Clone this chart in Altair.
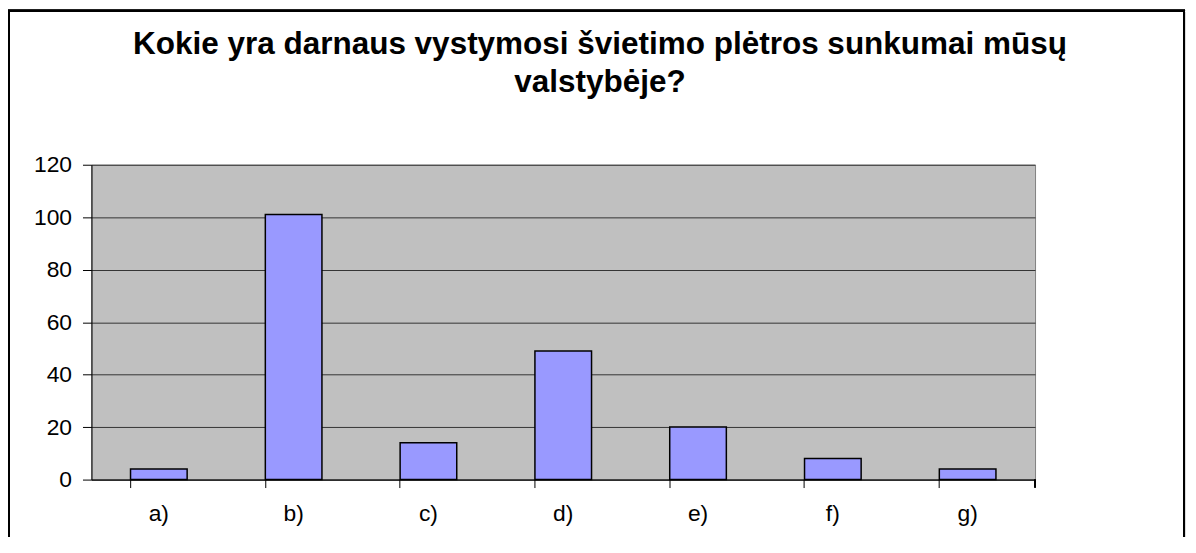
import altair as alt
import pandas as pd

categories = ["a)", "b)", "c)", "d)", "e)", "f)", "g)"]
values = [4, 101, 14, 49, 20, 8, 4]
y_ticks = [0, 20, 40, 60, 80, 100, 120]
title_lines = ["Kokie yra darnaus vystymosi švietimo plėtros sunkumai mūsų", "valstybėje?"]

df = pd.DataFrame({"cat": categories, "val": values})
FONT = "Liberation Sans"

W, H = 950, 317

bars = alt.Chart(df).mark_bar(
    color="#9999FF", stroke="black", strokeWidth=1.5
).encode(
    x=alt.X("cat:N", sort=categories,
            scale=alt.Scale(paddingInner=0.58, paddingOuter=0.29),
            axis=alt.Axis(title=None, labelAngle=0, bandPosition=0, ticks=True,
                          tickSize=8, tickColor="black", domainColor="black",
                          labelFontSize=23, labelPadding=15, labelColor="black",
                          labelFont=FONT, grid=False, labelBaseline="top")),
    y=alt.Y("val:Q", scale=alt.Scale(domain=[0, 120], nice=False),
            axis=alt.Axis(title=None, values=y_ticks, tickSize=9, tickColor="black",
                          domainColor="black", labelFontSize=23, labelPadding=11,
                          labelColor="black", labelFont=FONT, grid=True,
                          gridColor="#333333", gridWidth=1)),
)

last_tick = alt.Chart(df).mark_rule(color="black", strokeWidth=1).encode(
    x=alt.value(W), y=alt.value(H), y2=alt.value(H + 8)
)

border = alt.Chart(df).mark_rect(fill=None, stroke="black", strokeWidth=2, clip=False).encode(
    x=alt.value(-83), x2=alt.value(1100), y=alt.value(-155), y2=alt.value(H + 120)
)

chart = alt.layer(bars, last_tick, border).properties(
    width=W, height=H,
    background="white",
    autosize=alt.AutoSizeParams(type="none"),
    padding={"left": 84, "top": 156, "right": 154, "bottom": 56},
    title=alt.TitleParams(text=title_lines, font=FONT, fontSize=31.7, fontWeight="bold",
                          color="black", anchor="middle", frame="group", dx=37,
                          baseline="alphabetic", offset=-114, lineHeight=38),
).configure_view(fill="#C0C0C0", stroke="#808080", strokeWidth=1)

chart.save("out.html", embed_options={"renderer": "svg", "actions": False})
